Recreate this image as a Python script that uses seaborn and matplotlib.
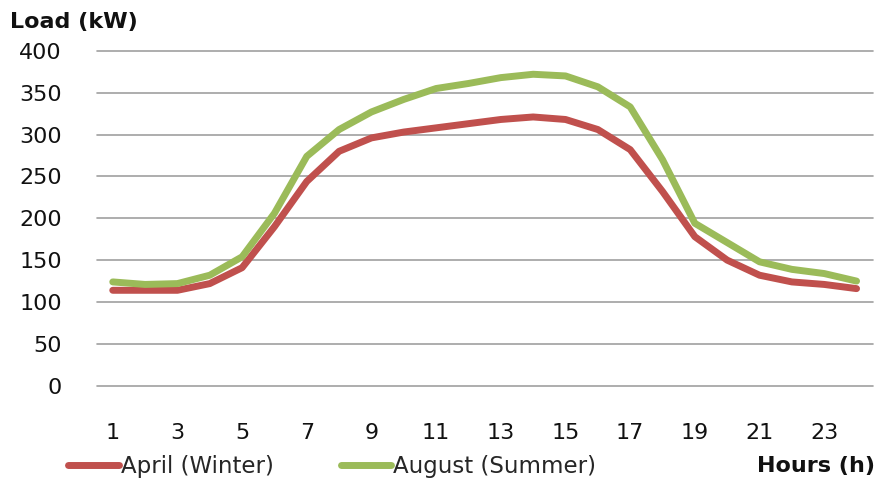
import matplotlib
matplotlib.use("Agg")
import matplotlib.pyplot as plt
import seaborn as sns
import pandas as pd

hours = list(range(1, 25))
april_winter = [114, 114, 114, 122, 141, 190, 244, 280, 296, 303, 308, 313,
                318, 321, 318, 306, 282, 232, 178, 150, 132, 124, 121, 116]
august_summer = [124, 121, 122, 132, 154, 206, 274, 306, 327, 342, 355, 361,
                 368, 372, 370, 357, 333, 270, 194, 171, 148, 139, 134, 125]
series_names = ["April (Winter)", "August (Summer)"]
x_ticks = list(range(1, 24, 2))
y_ticks = list(range(0, 401, 50))

df = pd.DataFrame({
    "Hour": hours * 2,
    "Load": april_winter + august_summer,
    "Series": [series_names[0]] * len(hours) + [series_names[1]] * len(hours),
})

sns.set_style("white")
plt.rcParams["font.family"] = ["DejaVu Sans"]

fig = plt.figure(figsize=(8.78, 4.84), dpi=100)
ax = fig.add_axes([0.110, 0.203, 0.884, 0.692])

sns.lineplot(data=df, x="Hour", y="Load", hue="Series",
             palette={series_names[0]: "#C0504D", series_names[1]: "#9BBB59"},
             linewidth=5, solid_capstyle="round", solid_joinstyle="round",
             ax=ax, legend=False)

ax.set_xlim(0.5, 24.5)
ax.set_ylim(0, 400)
ax.set_xticks(x_ticks)
ax.set_yticks(y_ticks)
ax.yaxis.grid(True, color="#a0a0a0", linewidth=1.2)
for gl in ax.get_ygridlines():
    gl.set_clip_on(False)
ax.set_axisbelow(True)
for s in ax.spines.values():
    s.set_visible(False)
ax.tick_params(axis="x", length=0, pad=27, labelsize=16, labelcolor="#111111")
ax.tick_params(axis="y", length=0, pad=25, labelsize=16, labelcolor="#111111")
ax.set_xlabel("")
ax.set_ylabel("")

handles = [plt.Line2D([], [], color="#C0504D", linewidth=5, solid_capstyle="round"),
           plt.Line2D([], [], color="#9BBB59", linewidth=5, solid_capstyle="round")]
fig.legend(handles, series_names, loc="center left", bbox_to_anchor=(0.078, 0.037),
           ncol=2, frameon=False, fontsize=16.5, handlelength=2.2, handletextpad=0.1,
           columnspacing=2.9, borderaxespad=0, borderpad=0)

fig.text(10 / 878, 1 - 22 / 484, "Load (kW)", ha="left", va="center",
         fontsize=16, fontweight="bold", color="#111111")
fig.text(875 / 878, 0.037, "Hours (h)", ha="right", va="center",
         fontsize=16, fontweight="bold", color="#111111")

fig.savefig("out.png", dpi=100)
